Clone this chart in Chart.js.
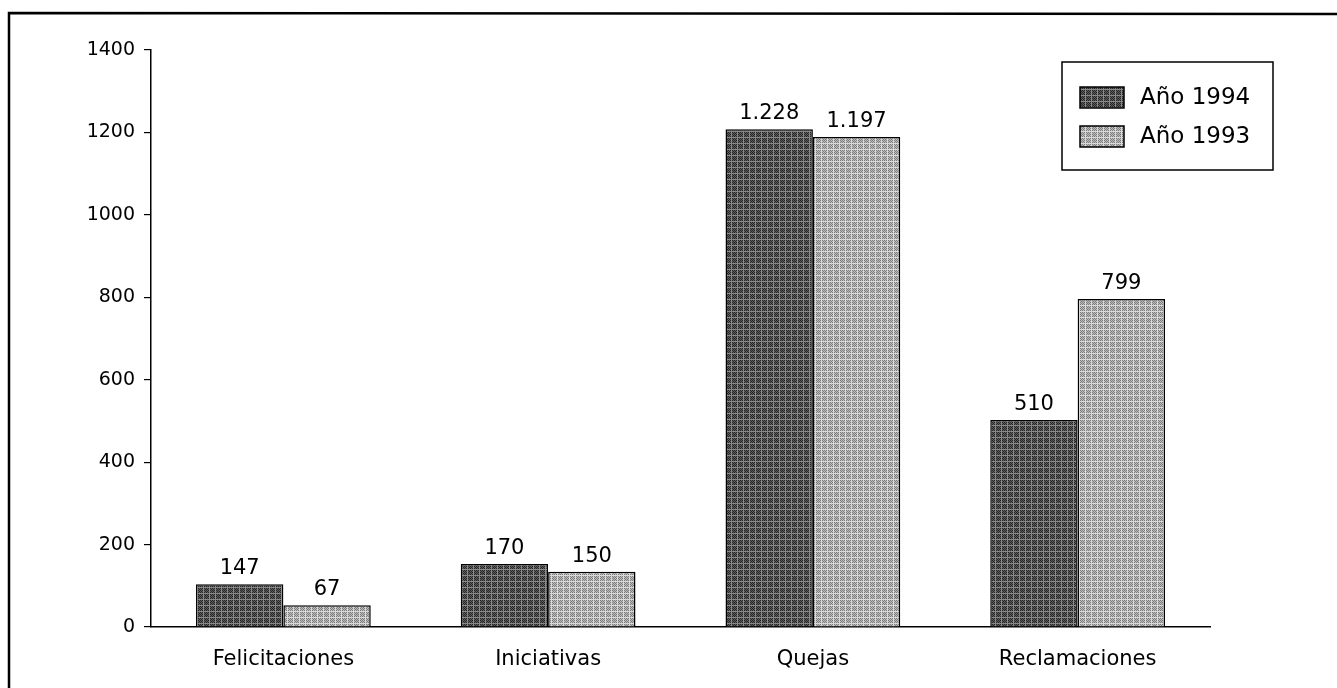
<!DOCTYPE html>
<html>
<head>
<meta charset="utf-8">
<script src="https://cdn.jsdelivr.net/npm/chart.js@4/dist/chart.umd.min.js"></script>
<style>
  html, body { margin: 0; padding: 0; background: #fff; }
  #wrap { width: 1337px; height: 688px; }
</style>
</head>
<body>
<div id="wrap"><canvas id="chart" width="1337" height="688"></canvas></div>
<script>
// Data
const categories = ["Felicitaciones", "Iniciativas", "Quejas", "Reclamaciones"];
const seriesNames = ["Año 1994", "Año 1993"];
const values1994 = [104, 153, 1208, 502];   // bar heights as drawn
const values1993 = [53, 134, 1189, 796];
const labels1994 = ["147", "170", "1.228", "510"]; // printed labels
const labels1993 = ["67", "150", "1.197", "799"];
const yTicks = [0, 200, 400, 600, 800, 1000, 1200, 1400];

// Halftone-ish fills for the bars
function makePattern(dark, light, line) {
  const c = document.createElement("canvas");
  c.width = 6; c.height = 6;
  const g = c.getContext("2d");
  for (let y = 0; y < 6; y++) {
    for (let x = 0; x < 6; x++) {
      let col = (x + y) % 2 === 0 ? dark : light;
      if (x === 5 || y === 5) col = line;
      g.fillStyle = col;
      g.fillRect(x, y, 1, 1);
    }
  }
  return g.createPattern(c, "repeat");
}
const ctx = document.getElementById("chart").getContext("2d");
const darkFill = makePattern("#262626", "#5e5e5e", "#8a8a8a");
const lightFill = makePattern("#7c7c7c", "#bdbdbd", "#dadada");

const FONT = "'DejaVu Sans', sans-serif";

// Value labels above each bar
const valueLabels = {
  id: "valueLabels",
  afterDatasetsDraw(chart) {
    const c = chart.ctx;
    const texts = [labels1994, labels1993];
    c.save();
    c.fillStyle = "#000";
    c.font = "21px " + FONT;
    c.textAlign = "center";
    c.textBaseline = "alphabetic";
    chart.data.datasets.forEach((ds, di) => {
      chart.getDatasetMeta(di).data.forEach((bar, i) => {
        c.fillText(texts[di][i], bar.x, bar.y - 10);
      });
    });
    c.restore();
  }
};

// Boxed legend in the top right + page frame
const frameAndLegend = {
  id: "frameAndLegend",
  afterDraw(chart) {
    const c = chart.ctx;
    c.save();
    // frame
    c.strokeStyle = "#000";
    c.lineWidth = 2.5;
    c.beginPath();
    c.moveTo(9, 688);
    c.lineTo(9, 13);
    c.lineTo(1337, 14);
    c.stroke();

    // legend box
    c.lineWidth = 1.5;
    c.strokeRect(1062, 62, 211, 108);
    const fills = [darkFill, lightFill];
    const rowsY = [87, 126];
    c.font = "23px " + FONT;
    c.textBaseline = "middle";
    c.textAlign = "left";
    seriesNames.forEach((name, i) => {
      c.fillStyle = fills[i];
      c.fillRect(1080, rowsY[i], 44, 21);
      c.strokeRect(1080, rowsY[i], 44, 21);
      c.fillStyle = "#000";
      c.fillText(name, 1140, rowsY[i] + 11);
    });
    c.restore();
  }
};

new Chart(ctx, {
  type: "bar",
  data: {
    labels: categories,
    datasets: [
      {
        label: seriesNames[0],
        data: values1994,
        backgroundColor: darkFill,
        borderColor: "#000",
        borderWidth: 1.5,
        categoryPercentage: 0.66,
        barPercentage: 1.0
      },
      {
        label: seriesNames[1],
        data: values1993,
        backgroundColor: lightFill,
        borderColor: "#000",
        borderWidth: 1.5,
        categoryPercentage: 0.66,
        barPercentage: 1.0
      }
    ]
  },
  options: {
    responsive: false,
    animation: false,
    layout: { padding: { left: 0, right: 127, top: 50, bottom: 0 } },
    plugins: {
      legend: { display: false },
      tooltip: { enabled: false }
    },
    scales: {
      x: {
        grid: { display: false, drawTicks: false },
        border: { display: true, color: "#000", width: 1.5 },
        ticks: {
          color: "#000",
          font: { family: FONT, size: 21 },
          padding: 20
        },
        afterFit(scale) { scale.height = 61; }
      },
      y: {
        min: 0,
        max: 1400,
        afterBuildTicks(scale) {
          scale.ticks = yTicks.map(v => ({ value: v }));
        },
        grid: {
          drawOnChartArea: false,
          drawTicks: true,
          tickLength: 7,
          color: "#000",
          lineWidth: 1.2
        },
        border: { display: true, color: "#000", width: 1.5 },
        ticks: {
          color: "#000",
          font: { family: FONT, size: 19 },
          padding: 9,
          callback: (v) => String(v)
        },
        afterFit(scale) { scale.width = 151; }
      }
    }
  },
  plugins: [valueLabels, frameAndLegend]
});
</script>
</body>
</html>
